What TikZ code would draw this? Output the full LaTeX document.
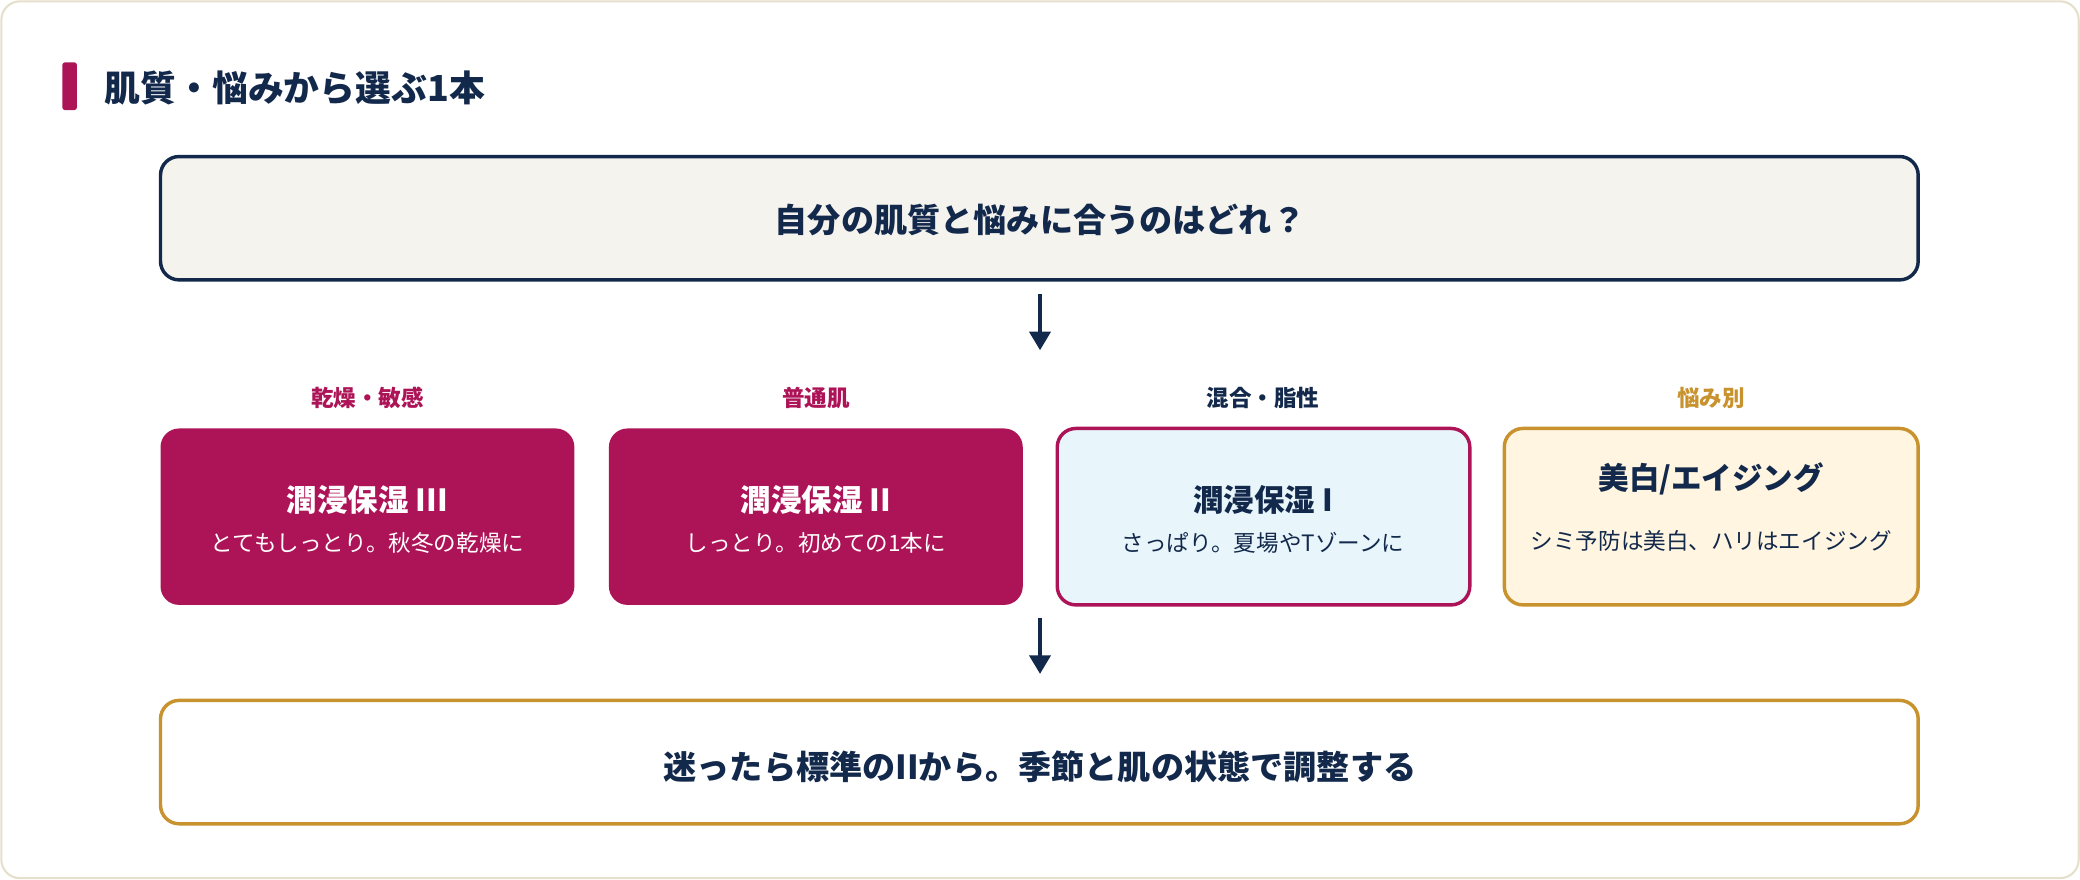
\documentclass[tikz,border=0pt]{standalone}
\usepackage{fontspec}
\setmainfont{Noto Sans CJK JP}
\usetikzlibrary{arrows.meta}
\definecolor{navy}{HTML}{13294B}
\definecolor{crim}{HTML}{AD1457}
\definecolor{gold}{HTML}{C8932E}
\definecolor{beige}{HTML}{E5E0CC}
\definecolor{qfill}{HTML}{F5F3EE}
\definecolor{blue}{HTML}{E8F6FC}
\definecolor{cream}{HTML}{FFF5E1}
\begin{document}
\begin{tikzpicture}[x=0.5pt,y=-0.5pt,
 box/.style={rounded corners=7pt,line width=1.3pt},
 card/.style={rounded corners=7pt,line width=1.3pt},
 lab/.style={font=\fontsize{8.5}{10}\selectfont\bfseries},
 ttl/.style={font=\fontsize{11.5}{13}\selectfont\bfseries},
 sub/.style={font=\fontsize{8.5}{14.5}\selectfont,align=center,text width=140pt},
 arr/.style={-{Triangle[length=7pt,width=8pt]},line width=1.3pt,navy}]
\useasboundingbox (0,0) rectangle (1568,663);
\draw[beige,fill=white,rounded corners=7pt,line width=0.8pt] (1,1) rectangle (1567,662);
\fill[crim,rounded corners=1pt] (47,47) rectangle (58,83);
\node[anchor=west,navy,font=\fontsize{13.5}{15}\selectfont\bfseries] (title) at (72,66) {肌質・悩みから選ぶ1本};
\draw[box,navy,fill=qfill] (121,118) rectangle (1446,211);
\node[navy,font=\fontsize{12.5}{14}\selectfont\bfseries] (q) at (784,166) {自分の肌質と悩みに合うのはどれ？};
\coordinate (a1) at (784,222); \coordinate (a2) at (784,264);
\draw[arr] (a1) -- (a2);
\node[lab,crim] (l1) at (277,300) {乾燥・敏感};
\node[lab,crim] (l2) at (615,300) {普通肌};
\node[lab,navy] (l3) at (952,300) {混合・脂性};
\node[lab,gold] (l4) at (1290,300) {悩み別};
\fill[crim,rounded corners=7pt] (121,323) rectangle (433,456);
\fill[crim,rounded corners=7pt] (459,323) rectangle (771,456);
\draw[card,crim,fill=blue] (797,323) rectangle (1108,456);
\draw[card,gold,fill=cream] (1134,323) rectangle (1446,456);
\node[ttl,white] (t1) at (277,377) {潤浸保湿 III};
\node[sub,white] (s1) at (277,409) {とてもしっとり。秋冬の乾燥に};
\node[ttl,white] (t2) at (615,377) {潤浸保湿 II};
\node[sub,white] (s2) at (615,409) {しっとり。初めての1本に};
\node[ttl,navy] (t3) at (952,377) {潤浸保湿 I};
\node[sub,navy] (s3) at (952,409) {さっぱり。夏場やTゾーンに};
\node[ttl,navy] (t4) at (1290,361) {美白/エイジング};
\node[sub,navy] (s4) at (1290,408) {シミ予防は美白、ハリはエイジング};
\coordinate (b1) at (784,466); \coordinate (b2) at (784,508);
\draw[arr] (b1) -- (b2);
\draw[box,gold,fill=white] (121,528) rectangle (1446,621);
\node[navy,font=\fontsize{12.5}{14}\selectfont\bfseries] (f) at (784,578) {迷ったら標準のIIから。季節と肌の状態で調整する};
\end{tikzpicture}
\end{document}
